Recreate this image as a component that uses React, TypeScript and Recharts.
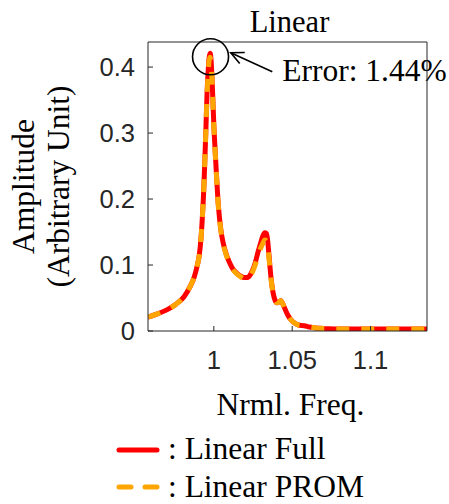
import React from 'react';
import { LineChart, Line, XAxis, YAxis, ReferenceDot, ReferenceLine } from 'recharts';

const freq = [
  0.958, 0.964, 0.97, 0.976, 0.981, 0.985, 0.9875, 0.9895, 0.9906, 0.9918,
  0.9927, 0.9935, 0.9942, 0.995, 0.9957, 0.9964, 0.997, 0.9976, 0.9982, 0.9988,
  0.9994, 1.0, 1.0008, 1.0015, 1.0028, 1.0045, 1.006, 1.0077, 1.0098, 1.0119,
  1.0145, 1.0172, 1.0195, 1.0215, 1.0232, 1.0247, 1.0265, 1.028, 1.0296, 1.0311,
  1.0325, 1.0335, 1.0342, 1.035, 1.0358, 1.0366, 1.0378, 1.039, 1.0402, 1.0415,
  1.0428, 1.044, 1.0453, 1.047, 1.0492, 1.0515, 1.054, 1.0577, 1.061, 1.064,
  1.068, 1.0725, 1.08, 1.09, 1.1, 1.11, 1.12, 1.13, 1.136,
];

const linearFull = [
  0.021, 0.026, 0.032, 0.041, 0.052, 0.068, 0.082, 0.1, 0.113, 0.14,
  0.173, 0.21, 0.254, 0.31, 0.362, 0.395, 0.414, 0.421, 0.412, 0.385,
  0.35, 0.312, 0.275, 0.245, 0.193, 0.153, 0.133, 0.118, 0.105, 0.095,
  0.088, 0.083, 0.081, 0.081, 0.085, 0.092, 0.104, 0.118, 0.131, 0.143,
  0.149, 0.148, 0.14, 0.12, 0.098, 0.078, 0.058, 0.047, 0.043, 0.044,
  0.046, 0.041, 0.034, 0.025, 0.017, 0.012, 0.009, 0.008, 0.006, 0.005,
  0.004, 0.0035, 0.003, 0.003, 0.003, 0.003, 0.003, 0.003, 0.003,
];

const linearProm = [
  0.021, 0.026, 0.032, 0.041, 0.052, 0.068, 0.082, 0.1, 0.113, 0.14,
  0.173, 0.21, 0.254, 0.31, 0.36, 0.392, 0.41, 0.415, 0.407, 0.382,
  0.348, 0.311, 0.274, 0.244, 0.192, 0.152, 0.132, 0.117, 0.104, 0.094,
  0.087, 0.082, 0.079, 0.079, 0.083, 0.09, 0.101, 0.113, 0.124, 0.132,
  0.138, 0.137, 0.13, 0.115, 0.095, 0.077, 0.058, 0.047, 0.043, 0.044,
  0.046, 0.041, 0.034, 0.025, 0.017, 0.012, 0.009, 0.008, 0.006, 0.005,
  0.004, 0.0035, 0.003, 0.003, 0.003, 0.003, 0.003, 0.003, 0.003,
];

const xTicks = [1, 1.05, 1.1];
const yTicks = [0, 0.1, 0.2, 0.3, 0.4];
const xDomain = [0.958, 1.136];
const yDomain = [0, 0.438];

const titleText = 'Linear';
const xLabelText = 'Nrml. Freq.';
const yLabelLines = ['Amplitude', '(Arbitrary Unit)'];
const legendLabels = [': Linear Full', ': Linear PROM'];
const annotationText = 'Error: 1.44%';
const annotationCircle = { f: 0.9979, a: 0.4156 };
const annotationArrow = { f1: 1.0108, a1: 0.4217, f2: 1.0373, a2: 0.393 };

const data = freq.map((f, i) => ({ f, full: linearFull[i], prom: linearProm[i] }));

const AX = '#262626';
const SERIF = '"Liberation Serif", "Times New Roman", serif';
const SANS = '"Liberation Sans", Arial, sans-serif';
const RED = '#FF0000';
const ORANGE = '#FFA500';
const SERIF_SIZE = 31.5;

const tickStyle = { fontFamily: SANS, fontSize: 25.5, fill: AX };

const fmtX = (v: number) => (v === 1 ? '1' : String(v));
const fmtY = (v: number) => (v === 0 ? '0' : String(v));

const ArrowShape = (props: any) => {
  const { x1, y1, x2, y2 } = props;
  if ([x1, y1, x2, y2].some((v) => typeof v !== 'number' || isNaN(v))) return null;
  const ang = Math.atan2(y2 - y1, x2 - x1);
  const len = 14;
  const spread = 0.45;
  const ax1 = x1 + len * Math.cos(ang + spread);
  const ay1 = y1 + len * Math.sin(ang + spread);
  const ax2 = x1 + len * Math.cos(ang - spread);
  const ay2 = y1 + len * Math.sin(ang - spread);
  return (
    <g>
      <line x1={x1} y1={y1} x2={x2} y2={y2} stroke="#000" strokeWidth={1.6} />
      <polyline points={`${ax1},${ay1} ${x1},${y1} ${ax2},${ay2}`} fill="none" stroke="#000" strokeWidth={1.6} />
      <text x={x2 + 10} y={y2 + 9} fontFamily={SERIF} fontSize={SERIF_SIZE} fill="#000">
        {annotationText}
      </text>
    </g>
  );
};

const YLabel = (props: any) => {
  const vb = props.viewBox || {};
  const cy = (vb.y ?? 42) + (vb.height ?? 289) / 2;
  const xs = [34, 69];
  return (
    <g>
      {yLabelLines.map((t, i) => (
        <text
          key={i}
          x={xs[i]}
          y={cy}
          transform={`rotate(-90, ${xs[i]}, ${cy})`}
          textAnchor="middle"
          fontFamily={SERIF}
          fontSize={SERIF_SIZE}
          fill="#000"
        >
          {t}
        </text>
      ))}
    </g>
  );
};

const XLabel = (props: any) => {
  const vb = props.viewBox || {};
  const cx = (vb.x ?? 148) + (vb.width ?? 279) / 2;
  return (
    <text x={cx + 3} y={(vb.y ?? 331) + 84} textAnchor="middle" fontFamily={SERIF} fontSize={SERIF_SIZE} fill="#000">
      {xLabelText}
    </text>
  );
};

const TitleLabel = (props: any) => {
  const vb = props.viewBox || {};
  const cx = (vb.x ?? 148) + (vb.width ?? 279) / 2;
  return (
    <text x={cx + 2} y={32} textAnchor="middle" fontFamily={SERIF} fontSize={SERIF_SIZE - 1} fill="#000">
      {titleText}
    </text>
  );
};

const LegendBox = () => (
  <svg width={449} height={504} style={{ position: 'absolute', left: 0, top: 0, pointerEvents: 'none' }}>
    <line x1={119} y1={450} x2={157} y2={450} stroke={RED} strokeWidth={5} strokeLinecap="round" />
    <text x={168} y={459} fontFamily={SERIF} fontSize={SERIF_SIZE} fill="#000">
      {legendLabels[0]}
    </text>
    <line x1={119} y1={487} x2={157} y2={487} stroke={ORANGE} strokeWidth={5} strokeLinecap="round" strokeDasharray="12 14" />
    <text x={168} y={497} fontFamily={SERIF} fontSize={SERIF_SIZE} fill="#000">
      {legendLabels[1]}
    </text>
  </svg>
);

export default function App() {
  return (
    <div style={{ position: 'absolute', left: 0, top: 0, width: 449, height: 504, background: '#fff' }}>
      <LineChart width={449} height={504} data={data} margin={{ top: 40, right: 20, bottom: 93, left: 0 }}>
        <XAxis
          xAxisId="bottom"
          dataKey="f"
          type="number"
          domain={xDomain}
          ticks={xTicks}
          tickFormatter={fmtX}
          allowDataOverflow
          height={80}
          tickSize={-5}
          tickMargin={25}
          tick={tickStyle}
          stroke={AX}
          axisLine={{ stroke: AX, strokeWidth: 1 }}
          tickLine={{ stroke: AX }}
          interval={0}
          label={<XLabel />}
        />
        <XAxis
          xAxisId="top"
          orientation="top"
          dataKey="f"
          type="number"
          domain={xDomain}
          ticks={xTicks}
          allowDataOverflow
          height={2}
          tickSize={-5}
          tickMargin={0}
          tick={false}
          stroke={AX}
          axisLine={{ stroke: AX, strokeWidth: 1 }}
          tickLine={{ stroke: AX }}
          interval={0}
          label={<TitleLabel />}
        />
        <YAxis
          yAxisId="left"
          type="number"
          domain={yDomain}
          ticks={yTicks}
          tickFormatter={fmtY}
          allowDataOverflow
          width={148}
          tickSize={-5}
          tickMargin={18}
          tick={tickStyle}
          stroke={AX}
          axisLine={{ stroke: AX, strokeWidth: 1 }}
          tickLine={{ stroke: AX }}
          interval={0}
          label={<YLabel />}
        />
        <YAxis
          yAxisId="right"
          orientation="right"
          type="number"
          domain={yDomain}
          ticks={yTicks}
          allowDataOverflow
          width={2}
          tickSize={-5}
          tickMargin={0}
          tick={false}
          stroke={AX}
          axisLine={{ stroke: AX, strokeWidth: 1 }}
          tickLine={{ stroke: AX }}
          interval={0}
        />
        <Line
          xAxisId="bottom"
          yAxisId="left"
          dataKey="full"
          type="monotone"
          stroke={RED}
          strokeWidth={5}
          dot={false}
          isAnimationActive={false}
        />
        <Line
          xAxisId="bottom"
          yAxisId="left"
          dataKey="prom"
          type="monotone"
          stroke={ORANGE}
          strokeWidth={5}
          strokeDasharray="13 12"
          dot={false}
          isAnimationActive={false}
        />
        <ReferenceDot
          xAxisId="bottom"
          yAxisId="left"
          x={annotationCircle.f}
          y={annotationCircle.a}
          r={18}
          fill="none"
          stroke="#000"
          strokeWidth={1.6}
          ifOverflow="visible"
        />
        <ReferenceLine
          xAxisId="bottom"
          yAxisId="left"
          segment={[
            { x: annotationArrow.f1, y: annotationArrow.a1 },
            { x: annotationArrow.f2, y: annotationArrow.a2 },
          ]}
          ifOverflow="visible"
          shape={<ArrowShape />}
        />
      </LineChart>
      <LegendBox />
    </div>
  );
}
